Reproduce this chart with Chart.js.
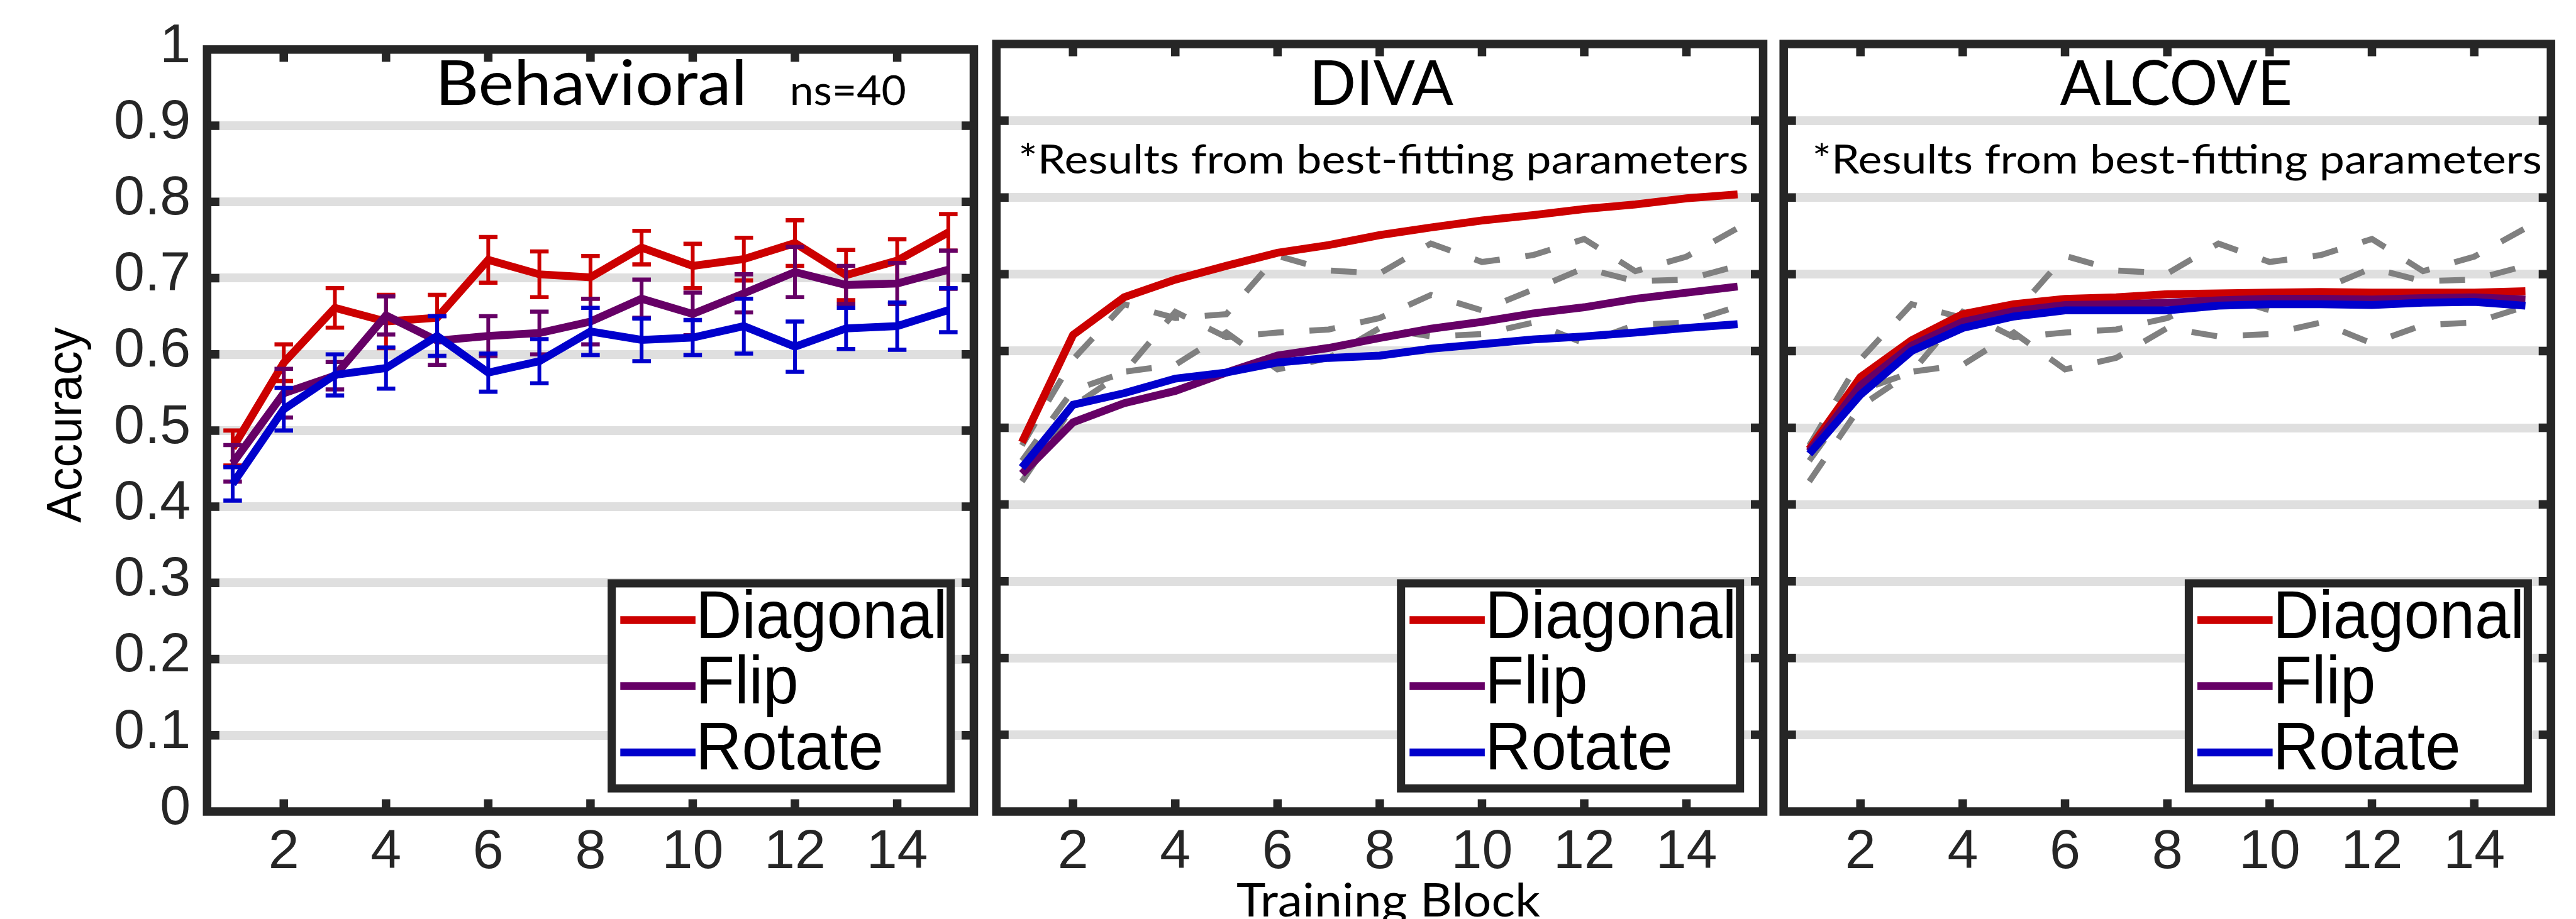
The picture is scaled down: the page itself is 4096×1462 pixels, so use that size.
<!DOCTYPE html>
<html>
<head>
<meta charset="utf-8">
<script src="https://cdn.jsdelivr.net/npm/chart.js@4.4.1/dist/chart.umd.min.js"></script>
<style>
html, body { margin: 0; padding: 0; background: #ffffff; width: 4096px; height: 1462px; overflow: hidden; }
canvas { position: absolute; left: 0; top: 0; }
</style>
</head>
<body>
<canvas id="c1" width="4096" height="1462"></canvas>
<canvas id="c2" width="4096" height="1462"></canvas>
<canvas id="c3" width="4096" height="1462"></canvas>
<script>
// ---------------- DATA ----------------
const blocks = [1, 2, 3, 4, 5, 6, 7, 8, 9, 10, 11, 12, 13, 14, 15];
const xTickValues = [2, 4, 6, 8, 10, 12, 14];
const yTickValues = [0, 0.1, 0.2, 0.3, 0.4, 0.5, 0.6, 0.7, 0.8, 0.9, 1];
const yTickLabels = ['0', '0.1', '0.2', '0.3', '0.4', '0.5', '0.6', '0.7', '0.8', '0.9', '1'];
const seriesNames = ['Diagonal', 'Flip', 'Rotate'];
const panelTitles = ['Behavioral', 'DIVA', 'ALCOVE'];
const sampleNote = 'ns=40';
const modelNote = '*Results from best-fitting parameters';
const xAxisTitle = 'Training Block';
const yAxisTitle = 'Accuracy';

// Behavioral means and error bars
const behavDiagonal = [0.477, 0.589, 0.661, 0.643, 0.648, 0.724, 0.705, 0.701, 0.740, 0.716, 0.725, 0.746, 0.704, 0.723, 0.760];
const behavFlip     = [0.457, 0.549, 0.572, 0.651, 0.618, 0.624, 0.628, 0.643, 0.673, 0.653, 0.680, 0.708, 0.691, 0.693, 0.711];
const behavRotate   = [0.430, 0.528, 0.573, 0.582, 0.624, 0.576, 0.591, 0.630, 0.619, 0.622, 0.637, 0.610, 0.634, 0.637, 0.658];
const errDiagonal   = [0.023, 0.024, 0.026, 0.035, 0.030, 0.030, 0.030, 0.028, 0.022, 0.029, 0.028, 0.030, 0.033, 0.028, 0.024];
const errFlip       = [0.024, 0.032, 0.018, 0.025, 0.032, 0.026, 0.028, 0.030, 0.025, 0.028, 0.025, 0.033, 0.025, 0.027, 0.025];
const errRotate     = [0.022, 0.028, 0.027, 0.027, 0.026, 0.025, 0.029, 0.031, 0.028, 0.023, 0.036, 0.033, 0.027, 0.031, 0.029];

// DIVA model
const divaDiagonal = [0.481, 0.621, 0.670, 0.693, 0.711, 0.728, 0.738, 0.751, 0.761, 0.770, 0.777, 0.785, 0.791, 0.799, 0.804];
const divaFlip     = [0.440, 0.507, 0.532, 0.548, 0.572, 0.594, 0.604, 0.617, 0.629, 0.638, 0.649, 0.657, 0.668, 0.676, 0.684];
const divaRotate   = [0.448, 0.530, 0.545, 0.564, 0.572, 0.585, 0.591, 0.594, 0.603, 0.609, 0.615, 0.619, 0.624, 0.630, 0.635];

// ALCOVE model
const alcoveDiagonal = [0.472, 0.566, 0.614, 0.648, 0.661, 0.668, 0.670, 0.674, 0.675, 0.676, 0.677, 0.676, 0.676, 0.676, 0.678];
const alcoveFlip     = [0.469, 0.555, 0.607, 0.638, 0.652, 0.660, 0.661, 0.663, 0.666, 0.668, 0.668, 0.667, 0.669, 0.670, 0.667];
const alcoveRotate   = [0.466, 0.543, 0.600, 0.630, 0.645, 0.653, 0.653, 0.653, 0.659, 0.661, 0.661, 0.660, 0.663, 0.664, 0.659];

// ---------------- LAYOUT / STYLE ----------------
const PAGE_W = 4096, PAGE_H = 1462;
const PLOT_TOP = 70, PLOT_BOTTOM = 1291;
const PANEL_X = [[329.3, 1548.5], [1584.3, 2803.5], [2836.2, 4056.2]];
const X_AXIS_BAND = 110;
const Y_AXIS_BAND = 300;
const ARIAL = "'Liberation Sans', Arial, sans-serif";
const CAL = "Lato, 'Open Sans', sans-serif";
const COLORS = {
  frame: '#262626', grid: '#dfdfdf', text: '#000000', tickText: '#262626',
  series: ['#cc0000', '#660066', '#0000cc'], ref: '#808080'
};
const STYLE = {
  lineWidth: 12.5, refWidth: 9.5, refDash: [41, 41],
  frameWidth: 13.5, tickWidth: 13.5, tickLen: 19.5, gridWidth: 14,
  errStem: 6, errCap: 6.6, capHalf: 14.75,
  legendBorder: 13, legendW: 539, legendH: 326.2, legendGap: 36.8,
  legLineX0: 13.6, legLineX1: 133.2, legLineY: [58.6, 163.5, 269.1],
  legTextX: 141.1, legTextBase: [86.9, 191.4, 295.8], legCap: 74.6, legWidth: 385.9
};

// ---------------- HELPERS ----------------
function pts(vals) { return blocks.map((b, i) => ({ x: b, y: vals[i] })); }
function seriesDS(idx, vals, errors) {
  return {
    label: seriesNames[idx], data: pts(vals), borderColor: COLORS.series[idx],
    borderWidth: STYLE.lineWidth, pointRadius: 0, tension: 0, fill: false,
    borderCapStyle: 'butt', borderJoinStyle: 'miter', order: 3 - idx, errors: errors
  };
}
function refDS(idx, vals) {
  return {
    label: seriesNames[idx] + ' (behavioral)', data: pts(vals), borderColor: COLORS.ref,
    borderWidth: STYLE.refWidth, borderDash: STYLE.refDash, pointRadius: 0, tension: 0,
    fill: false, borderCapStyle: 'butt', borderJoinStyle: 'miter', order: 10
  };
}
function fitFont(ctx, family, ref, cap, text, width) {
  ctx.font = '100px ' + family;
  const refAsc = ctx.measureText(ref).actualBoundingBoxAscent;
  const size = 100 * cap / refAsc;
  ctx.font = size + 'px ' + family;
  const m = ctx.measureText(text);
  const ink = m.actualBoundingBoxLeft + m.actualBoundingBoxRight;
  return { size: size, sx: width / ink };
}
function drawFitted(ctx, text, family, f, inkLeft, base, color) {
  ctx.save();
  ctx.font = f.size + 'px ' + family;
  ctx.fillStyle = color;
  ctx.textAlign = 'left';
  ctx.textBaseline = 'alphabetic';
  ctx.translate(inkLeft, base);
  ctx.scale(f.sx, 1);
  const m = ctx.measureText(text);
  ctx.fillText(text, m.actualBoundingBoxLeft, 0);
  ctx.restore();
}

// ---------------- PLUGIN ----------------
const decorPlugin = {
  id: 'decor',
  beforeDatasetDraw(chart, args) {
    const ds = chart.data.datasets[args.index];
    if (!ds.errors) return;
    const xs = chart.scales.x, ys = chart.scales.y, ctx = chart.ctx;
    ctx.save();
    ctx.strokeStyle = ds.borderColor;
    ctx.lineCap = 'butt';
    ds.data.forEach((p, i) => {
      const e = ds.errors[i];
      const x = xs.getPixelForValue(p.x);
      const yT = ys.getPixelForValue(p.y + e);
      const yB = ys.getPixelForValue(p.y - e);
      ctx.lineWidth = STYLE.errStem;
      ctx.beginPath(); ctx.moveTo(x, yT); ctx.lineTo(x, yB); ctx.stroke();
      ctx.lineWidth = STYLE.errCap;
      ctx.beginPath();
      ctx.moveTo(x - STYLE.capHalf, yT); ctx.lineTo(x + STYLE.capHalf, yT);
      ctx.moveTo(x - STYLE.capHalf, yB); ctx.lineTo(x + STYLE.capHalf, yB);
      ctx.stroke();
    });
    ctx.restore();
  },
  afterDraw(chart, args, opts) {
    const ctx = chart.ctx, a = chart.chartArea;
    const xs = chart.scales.x, ys = chart.scales.y;
    ctx.save();
    // frame
    ctx.strokeStyle = COLORS.frame;
    ctx.lineWidth = STYLE.frameWidth;
    ctx.lineJoin = 'miter';
    ctx.strokeRect(a.left, a.top, a.right - a.left, a.bottom - a.top);
    // inward ticks
    ctx.lineWidth = STYLE.tickWidth;
    ctx.lineCap = 'butt';
    ctx.beginPath();
    xTickValues.forEach(v => {
      const px = xs.getPixelForValue(v);
      ctx.moveTo(px, a.bottom); ctx.lineTo(px, a.bottom - STYLE.tickLen);
      ctx.moveTo(px, a.top); ctx.lineTo(px, a.top + STYLE.tickLen);
    });
    yTickValues.forEach(v => {
      if (v === 0 || v === 1) return;
      const py = ys.getPixelForValue(v);
      ctx.moveTo(a.left, py); ctx.lineTo(a.left + STYLE.tickLen, py);
      ctx.moveTo(a.right, py); ctx.lineTo(a.right - STYLE.tickLen, py);
    });
    ctx.stroke();

    // legend
    const lr = a.right - STYLE.legendGap, lb = a.bottom - STYLE.legendGap;
    const ll = lr - STYLE.legendW, lt = lb - STYLE.legendH;
    ctx.fillStyle = '#ffffff';
    ctx.fillRect(ll, lt, STYLE.legendW, STYLE.legendH);
    ctx.strokeStyle = COLORS.frame;
    ctx.lineWidth = STYLE.legendBorder;
    ctx.strokeRect(ll, lt, STYLE.legendW, STYLE.legendH);
    const lf = fitFont(ctx, ARIAL, 'D', STYLE.legCap, seriesNames[0], STYLE.legWidth);
    seriesNames.forEach((name, i) => {
      ctx.strokeStyle = COLORS.series[i];
      ctx.lineWidth = STYLE.lineWidth;
      ctx.beginPath();
      ctx.moveTo(ll + STYLE.legLineX0, lt + STYLE.legLineY[i]);
      ctx.lineTo(ll + STYLE.legLineX1, lt + STYLE.legLineY[i]);
      ctx.stroke();
      drawFitted(ctx, name, ARIAL, lf, ll + STYLE.legTextX, lt + STYLE.legTextBase[i], COLORS.text);
    });

    // texts
    (opts.texts || []).forEach(t => {
      if (t.rotate) {
        ctx.save();
        ctx.translate(t.cx, t.cy);
        ctx.rotate(-Math.PI / 2);
        const f = fitFont(ctx, t.family, t.ref, t.cap, t.text, t.width);
        drawFitted(ctx, t.text, t.family, f, -t.width / 2, 0, COLORS.text);
        ctx.restore();
      } else {
        const f = fitFont(ctx, t.family, t.ref, t.cap, t.text, t.width);
        drawFitted(ctx, t.text, t.family, f, t.left, t.base, COLORS.text);
      }
    });
    ctx.restore();
  }
};

// ---------------- CHART FACTORY ----------------
function makeChart(id, panelIdx, datasets, showYLabels, texts) {
  const [L, R] = PANEL_X[panelIdx];
  const yBand = showYLabels ? Y_AXIS_BAND : 0;
  return new Chart(document.getElementById(id), {
    type: 'line',
    data: { datasets: datasets },
    options: {
      responsive: false,
      animation: false,
      devicePixelRatio: 1,
      events: [],
      layout: { padding: { left: L - yBand, right: PAGE_W - R, top: PLOT_TOP, bottom: PAGE_H - PLOT_BOTTOM - X_AXIS_BAND } },
      plugins: { legend: { display: false }, tooltip: { enabled: false }, decor: { texts: texts } },
      scales: {
        x: {
          type: 'linear', min: 0.5, max: 15.5,
          afterFit: s => { s.height = X_AXIS_BAND; },
          afterBuildTicks: s => { s.ticks = xTickValues.map(v => ({ value: v })); },
          grid: { display: false, drawTicks: false },
          border: { display: false },
          ticks: {
            font: { family: ARIAL, size: 88 }, color: COLORS.tickText, padding: 13,
            maxRotation: 0, minRotation: 0, autoSkip: false,
            callback: v => String(v)
          }
        },
        y: {
          type: 'linear', min: 0, max: 1,
          afterFit: s => { s.width = yBand; },
          afterBuildTicks: s => { s.ticks = yTickValues.map(v => ({ value: v })); },
          grid: {
            drawTicks: false, lineWidth: STYLE.gridWidth,
            color: c => (c.tick && (c.tick.value === 0 || c.tick.value === 1)) ? 'rgba(0,0,0,0)' : COLORS.grid
          },
          border: { display: false },
          ticks: {
            display: showYLabels, font: { family: ARIAL, size: 88 }, color: COLORS.tickText,
            padding: 26, labelOffset: -4.5, autoSkip: false,
            callback: (v, i) => yTickLabels[i]
          }
        }
      }
    },
    plugins: [decorPlugin]
  });
}

// ---------------- BUILD ----------------
makeChart('c1', 0, [
  seriesDS(0, behavDiagonal, errDiagonal),
  seriesDS(1, behavFlip, errFlip),
  seriesDS(2, behavRotate, errRotate)
], true, [
  { text: panelTitles[0], family: CAL, ref: 'B', cap: 71.8, left: 701.7, width: 478.4, base: 167.4 },
  { text: sampleNote, family: CAL, ref: '4', cap: 48.6, left: 1259.8, width: 179.4, base: 167.4 },
  { text: yAxisTitle, family: ARIAL, ref: 'A', cap: 54.2, width: 311.7, cx: 128.9, cy: 675.8, rotate: true }
]);

makeChart('c2', 1, [
  refDS(0, behavDiagonal), refDS(1, behavFlip), refDS(2, behavRotate),
  seriesDS(0, divaDiagonal), seriesDS(1, divaFlip), seriesDS(2, divaRotate)
], false, [
  { text: panelTitles[1], family: CAL, ref: 'D', cap: 71.8, left: 2090.6, width: 220.9, base: 167.4 },
  { text: modelNote, family: CAL, ref: 'R', cap: 47.3, left: 1622.6, width: 1155.4, base: 276.2 },
  { text: xAxisTitle, family: CAL, ref: 'T', cap: 54.2, left: 1967, width: 482.4, base: 1457.7 }
]);

makeChart('c3', 2, [
  refDS(0, behavDiagonal), refDS(1, behavFlip), refDS(2, behavRotate),
  seriesDS(0, alcoveDiagonal), seriesDS(1, alcoveFlip), seriesDS(2, alcoveRotate)
], false, [
  { text: panelTitles[2], family: CAL, ref: 'E', cap: 71.8, left: 3275.5, width: 366, base: 167.4 },
  { text: modelNote, family: CAL, ref: 'R', cap: 47.3, left: 2884.8, width: 1154.6, base: 276.2 }
]);
</script>
</body>
</html>
